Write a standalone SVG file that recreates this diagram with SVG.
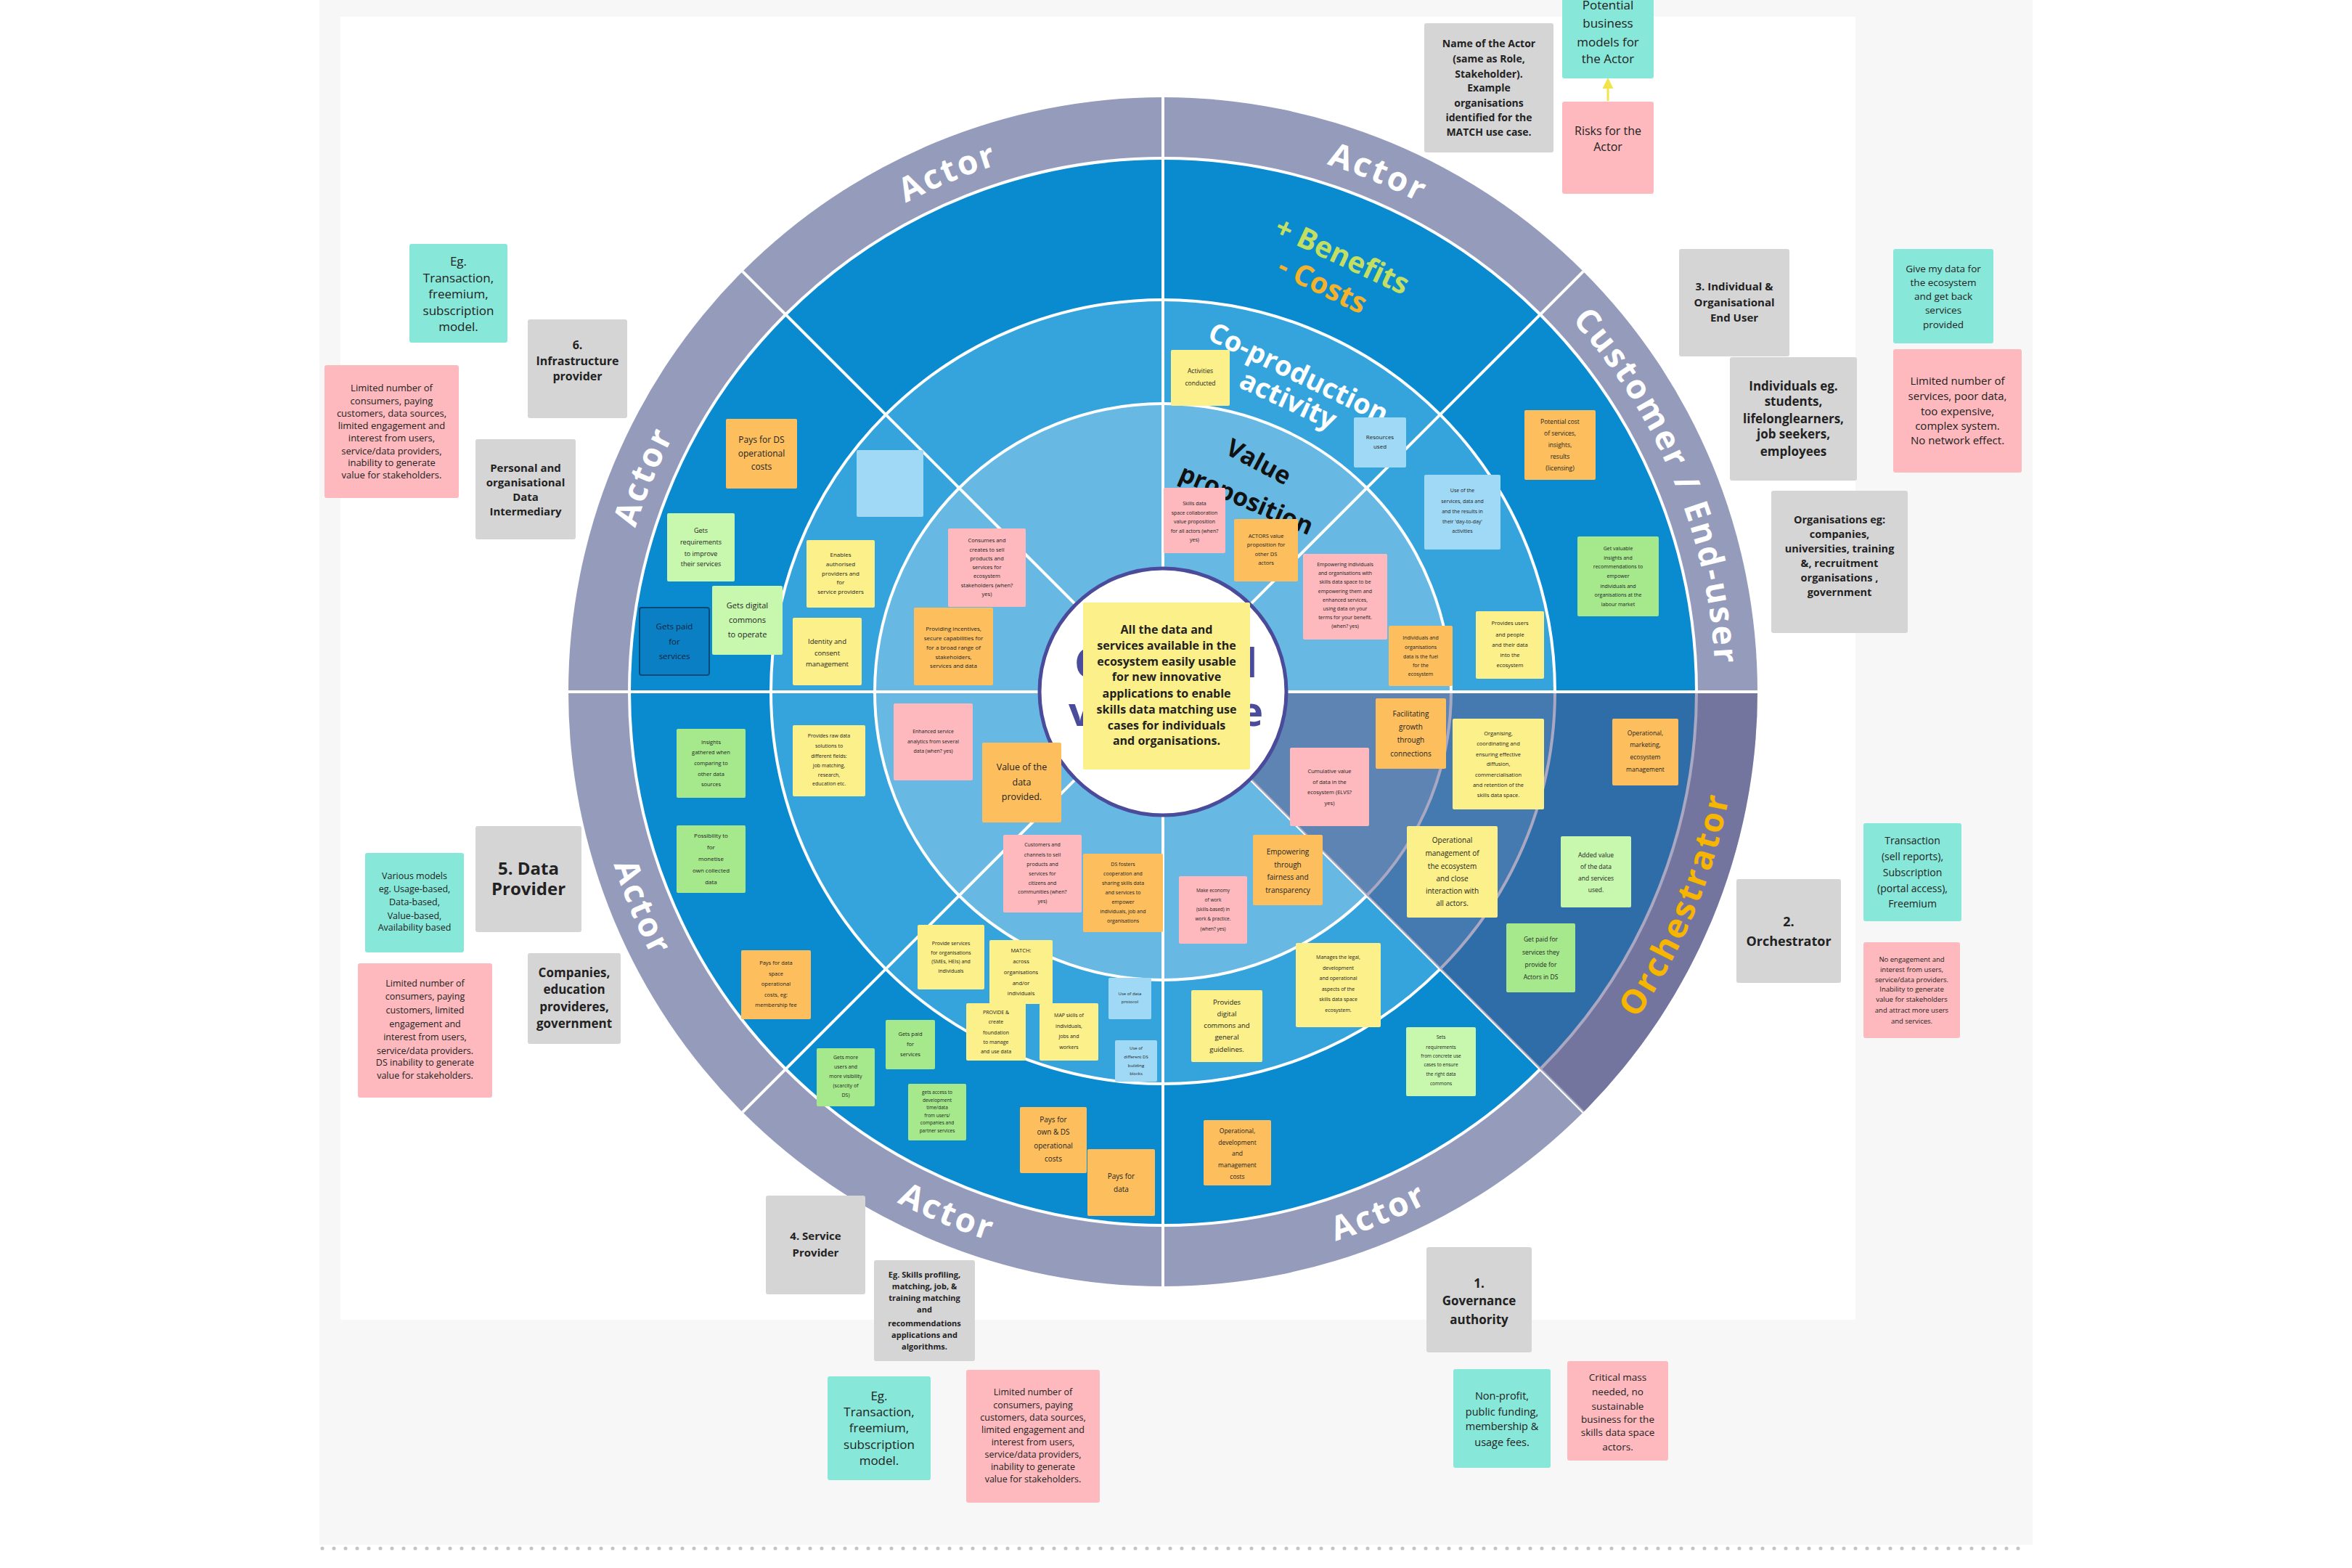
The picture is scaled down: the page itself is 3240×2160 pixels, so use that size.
<svg xmlns="http://www.w3.org/2000/svg" width="3240" height="2160" viewBox="0 0 3240 2160">
<defs>
<style>
.t{font-family:"Open Sans","Liberation Sans",sans-serif;fill:#222;text-anchor:middle}
.b{font-weight:700}
.band{font-family:"Open Sans","Liberation Sans",sans-serif;font-weight:700;font-size:46px;letter-spacing:3px;fill:#fff}
.grey{fill:#d5d5d5}.teal{fill:#87e7d8}.pink{fill:#fdb9bd}.orange{fill:#fdbf5e}.yellow{fill:#fcf08a}
.lgreen{fill:#c8f8ae}.green{fill:#a5e98c}.lblue{fill:#a0d9f6}.blue{fill:#0b7fc3;stroke:#0a4a7a;stroke-width:2}
.sep{stroke:#fff;stroke-width:4;fill:none}
</style>
<marker id="arr" viewBox="0 0 10 10" refX="8" refY="5" markerWidth="5" markerHeight="5" orient="auto"><path d="M0,0L10,5L0,10z" fill="#f2e34a"/></marker>
<path id="a-lu" d="M841,953 A761,761 0 0 1 1063.9,414.9"/>
<path id="a-tl" d="M1063.9,414.9 A761,761 0 0 1 1602,192"/>
<path id="a-tr" d="M1602,192 A761,761 0 0 1 2140.1,414.9"/>
<path id="a-ru" d="M2140.1,414.9 A761,761 0 0 1 2363,953"/>
<path id="a-ll" d="M809,953 A793,793 0 0 0 1041.3,1513.7"/>
<path id="a-bl" d="M1041.3,1513.7 A793,793 0 0 0 1602,1746"/>
<path id="a-br" d="M1602,1746 A793,793 0 0 0 2162.7,1513.7"/>
<path id="a-or" d="M2162.7,1513.7 A793,793 0 0 0 2395,953"/>
</defs>
<rect width="3240" height="2160" fill="#fff"/>
<rect x="440" y="0" width="2360" height="2128" fill="#f7f7f7"/>
<rect x="469" y="23" width="2087" height="1795" fill="#fff"/>
<line x1="444" y1="2133" x2="2796" y2="2133" stroke="#c4c4c4" stroke-width="5" stroke-dasharray="0 16" stroke-linecap="round"/>

<g id="wheel">
<circle cx="1602" cy="953" r="819" fill="#959bbb"/>
<circle cx="1602" cy="953" r="735" fill="#0a8bcf"/>
<circle cx="1602" cy="953" r="540" fill="#35a4dc"/>
<circle cx="1602" cy="953" r="397" fill="#67b9e3"/>
<circle class="sep" cx="1602" cy="953" r="735"/>
<circle class="sep" cx="1602" cy="953" r="540"/>
<circle class="sep" cx="1602" cy="953" r="397"/>
<line class="sep" x1="783" y1="953" x2="2421" y2="953"/>
<line class="sep" x1="1602" y1="134" x2="1602" y2="1772"/>
<line class="sep" x1="1022.9" y1="373.9" x2="2181.1" y2="1532.1"/>
<line class="sep" x1="1022.9" y1="1532.1" x2="2181.1" y2="373.9"/>
<path d="M1602,953 L2421,953 A819,819 0 0 1 2181.1,1532.1 Z" fill="#544f83" opacity="0.5"/>
<line class="sep" x1="1772" y1="953" x2="2421" y2="953"/>
<circle cx="1602" cy="953" r="170" fill="#fff" stroke="#4b4b9b" stroke-width="5"/>
</g>

<g id="band-labels">
<text class="band"><textPath href="#a-lu" startOffset="50%" text-anchor="middle">Actor</textPath></text>
<text class="band"><textPath href="#a-tl" startOffset="50%" text-anchor="middle">Actor</textPath></text>
<text class="band"><textPath href="#a-tr" startOffset="50%" text-anchor="middle">Actor</textPath></text>
<text class="band"><textPath href="#a-ru" startOffset="50%" text-anchor="middle">Customer / End-user</textPath></text>
<text class="band"><textPath href="#a-ll" startOffset="50%" text-anchor="middle">Actor</textPath></text>
<text class="band"><textPath href="#a-bl" startOffset="50%" text-anchor="middle">Actor</textPath></text>
<text class="band"><textPath href="#a-br" startOffset="50%" text-anchor="middle">Actor</textPath></text>
<text class="band" style="fill:#f7b500"><textPath href="#a-or" startOffset="50%" text-anchor="middle">Orchestrator</textPath></text>
</g>

<g id="ring-labels" font-family="Open Sans, Liberation Sans, sans-serif" font-weight="700" text-anchor="middle">
<text transform="translate(1849,352) rotate(25)" y="14" font-size="40" fill="#c2df63">+ Benefits</text>
<text transform="translate(1822,392) rotate(26)" y="14" font-size="40" fill="#f4b12c">- Costs</text>
<text transform="translate(1789,513) rotate(25.8)" y="14" font-size="38" fill="#fff">Co-production</text>
<text transform="translate(1775,550) rotate(25)" y="14" font-size="38" fill="#fff">activity</text>
<text transform="translate(1734,636) rotate(28)" y="12" font-size="34" fill="#111">Value</text>
<text transform="translate(1717,688) rotate(23)" y="12" font-size="34" fill="#111">proposition</text>
<text x="1480" y="933" font-size="56" fill="#4b4b9b" text-anchor="start" textLength="252" lengthAdjust="spacing">Central</text>
<text x="1472" y="1000" font-size="56" fill="#4b4b9b" text-anchor="start" textLength="268" lengthAdjust="spacing">value</text>
</g>

<g id="connectors">
<line x1="2215" y1="139" x2="2215" y2="110" stroke="#f2e34a" stroke-width="3" marker-end="url(#arr)"/>
</g>

<g id="center-note"><rect class="yellow" x="1492" y="830" width="230" height="230" rx="2"/>
<text class="t b" font-size="16"><tspan x="1607" y="873">All the data and</tspan><tspan x="1607" y="895">services available in the</tspan><tspan x="1607" y="917">ecosystem easily usable</tspan><tspan x="1607" y="938">for new innovative</tspan><tspan x="1607" y="961">applications to enable</tspan><tspan x="1607" y="983">skills data matching use</tspan><tspan x="1607" y="1005">cases for individuals</tspan><tspan x="1607" y="1026">and organisations.</tspan></text></g>

<!-- outer notes -->
<g id="n-name-actor"><rect class="grey" x="1962" y="32" width="178" height="178" rx="3"/>
<text class="t b" font-size="14"><tspan x="2051" y="65">Name of the Actor</tspan><tspan x="2051" y="86">(same as Role,</tspan><tspan x="2051" y="107">Stakeholder).</tspan><tspan x="2051" y="126">Example</tspan><tspan x="2051" y="147">organisations</tspan><tspan x="2051" y="167">identified for the</tspan><tspan x="2051" y="187">MATCH use case.</tspan></text></g>
<g id="n-potential-bm"><rect class="teal" x="2152" y="-15" width="126" height="123" rx="3"/>
<text class="t" font-size="17"><tspan x="2215" y="13">Potential</tspan><tspan x="2215" y="38">business</tspan><tspan x="2215" y="64">models for</tspan><tspan x="2215" y="87">the Actor</tspan></text></g>
<g id="n-risks"><rect class="pink" x="2152" y="140" width="126" height="127" rx="3"/>
<text class="t" font-size="16"><tspan x="2215" y="186">Risks for the</tspan><tspan x="2215" y="208">Actor</tspan></text></g>

<g id="n-eg-transaction-1"><rect class="teal" x="564" y="336" width="135" height="136" rx="3"/>
<text class="t" font-size="17"><tspan x="631.5" y="366">Eg.</tspan><tspan x="631.5" y="389">Transaction,</tspan><tspan x="631.5" y="411">freemium,</tspan><tspan x="631.5" y="434">subscription</tspan><tspan x="631.5" y="456">model.</tspan></text></g>
<g id="n-infrastructure"><rect class="grey" x="727" y="440" width="137" height="136" rx="3"/>
<text class="t b" font-size="16"><tspan x="795.5" y="481">6.</tspan><tspan x="795.5" y="503">Infrastructure</tspan><tspan x="795.5" y="524">provider</tspan></text></g>
<g id="n-risk-infra"><rect class="pink" x="447" y="503" width="185" height="183" rx="3"/>
<text class="t" font-size="13"><tspan x="539.5" y="539">Limited number of</tspan><tspan x="539.5" y="557">consumers, paying</tspan><tspan x="539.5" y="574">customers, data sources,</tspan><tspan x="539.5" y="591">limited engagement and</tspan><tspan x="539.5" y="608">interest from users,</tspan><tspan x="539.5" y="626">service/data providers,</tspan><tspan x="539.5" y="642">inability to generate</tspan><tspan x="539.5" y="659">value for stakeholders.</tspan></text></g>
<g id="n-data-intermediary"><rect class="grey" x="655" y="605" width="138" height="138" rx="3"/>
<text class="t b" font-size="15"><tspan x="724" y="650">Personal and</tspan><tspan x="724" y="670">organisational</tspan><tspan x="724" y="690">Data</tspan><tspan x="724" y="710">Intermediary</tspan></text></g>

<g id="n-end-user"><rect class="grey" x="2313" y="343" width="152" height="148" rx="3"/>
<text class="t b" font-size="15"><tspan x="2389" y="400">3. Individual  &amp;</tspan><tspan x="2389" y="422">Organisational</tspan><tspan x="2389" y="443">End User</tspan></text></g>
<g id="n-individuals"><rect class="grey" x="2383" y="492" width="175" height="170" rx="3"/>
<text class="t b" font-size="17"><tspan x="2470.5" y="538">Individuals eg.</tspan><tspan x="2470.5" y="559">students,</tspan><tspan x="2470.5" y="583">lifelonglearners,</tspan><tspan x="2470.5" y="604">job seekers,</tspan><tspan x="2470.5" y="628">employees</tspan></text></g>
<g id="n-give-data"><rect class="teal" x="2608" y="343" width="138" height="130" rx="3"/>
<text class="t" font-size="13.5"><tspan x="2677" y="375">Give my data for</tspan><tspan x="2677" y="394">the ecosystem</tspan><tspan x="2677" y="413">and get back</tspan><tspan x="2677" y="432">services</tspan><tspan x="2677" y="452">provided</tspan></text></g>
<g id="n-risk-enduser"><rect class="pink" x="2608" y="481" width="177" height="170" rx="3"/>
<text class="t" font-size="15"><tspan x="2696.5" y="530">Limited number of</tspan><tspan x="2696.5" y="551">services, poor data,</tspan><tspan x="2696.5" y="572">too expensive,</tspan><tspan x="2696.5" y="592">complex system.</tspan><tspan x="2696.5" y="612">No network effect.</tspan></text></g>
<g id="n-organisations"><rect class="grey" x="2440" y="676" width="188" height="196" rx="3"/>
<text class="t b" font-size="14.5"><tspan x="2534" y="721">Organisations eg:</tspan><tspan x="2534" y="741">companies,</tspan><tspan x="2534" y="761">universities, training</tspan><tspan x="2534" y="781">&amp;, recruitment</tspan><tspan x="2534" y="801">organisations ,</tspan><tspan x="2534" y="821">government</tspan></text></g>

<g id="n-various-models"><rect class="teal" x="503" y="1175" width="136" height="137" rx="3"/>
<text class="t" font-size="12.5"><tspan x="571" y="1211">Various models</tspan><tspan x="571" y="1229">eg. Usage-based,</tspan><tspan x="571" y="1247">Data-based,</tspan><tspan x="571" y="1266">Value-based,</tspan><tspan x="571" y="1282">Availability based</tspan></text></g>
<g id="n-data-provider"><rect class="grey" x="655" y="1138" width="146" height="146" rx="3"/>
<text class="t b" font-size="24"><tspan x="728" y="1205">5. Data</tspan><tspan x="728" y="1233">Provider</tspan></text></g>
<g id="n-risk-data"><rect class="pink" x="493" y="1327" width="185" height="185" rx="3"/>
<text class="t" font-size="12.5"><tspan x="585.5" y="1359">Limited number of</tspan><tspan x="585.5" y="1377">consumers, paying</tspan><tspan x="585.5" y="1396">customers, limited</tspan><tspan x="585.5" y="1415">engagement and</tspan><tspan x="585.5" y="1433">interest from users,</tspan><tspan x="585.5" y="1452">service/data providers.</tspan><tspan x="585.5" y="1468">DS inability to generate</tspan><tspan x="585.5" y="1486">value for stakeholders.</tspan></text></g>
<g id="n-companies"><rect class="grey" x="727" y="1313" width="128" height="125" rx="3"/>
<text class="t b" font-size="17"><tspan x="791" y="1346">Companies,</tspan><tspan x="791" y="1369">education</tspan><tspan x="791" y="1393">provideres,</tspan><tspan x="791" y="1416">government</tspan></text></g>

<g id="n-transaction-orch"><rect class="teal" x="2567" y="1134" width="135" height="135" rx="3"/>
<text class="t" font-size="14"><tspan x="2634.5" y="1163">Transaction</tspan><tspan x="2634.5" y="1185">(sell reports),</tspan><tspan x="2634.5" y="1207">Subscription</tspan><tspan x="2634.5" y="1229">(portal access),</tspan><tspan x="2634.5" y="1250">Freemium</tspan></text></g>
<g id="n-orchestrator"><rect class="grey" x="2392" y="1211" width="144" height="143" rx="3"/>
<text class="t b" font-size="18"><tspan x="2464" y="1276">2.</tspan><tspan x="2464" y="1303">Orchestrator</tspan></text></g>
<g id="n-risk-orch"><rect class="pink" x="2567" y="1298" width="133" height="132" rx="3"/>
<text class="t" font-size="9.5"><tspan x="2633.5" y="1325">No engagement and</tspan><tspan x="2633.5" y="1339">interest from users,</tspan><tspan x="2633.5" y="1353">service/data providers.</tspan><tspan x="2633.5" y="1366">Inability to generate</tspan><tspan x="2633.5" y="1380">value for stakeholders</tspan><tspan x="2633.5" y="1395">and attract more users</tspan><tspan x="2633.5" y="1410">and services.</tspan></text></g>

<g id="n-service-provider"><rect class="grey" x="1055" y="1647" width="137" height="136" rx="3"/>
<text class="t b" font-size="15"><tspan x="1123.5" y="1708">4. Service</tspan><tspan x="1123.5" y="1731">Provider</tspan></text></g>
<g id="n-eg-skills"><rect class="grey" x="1204" y="1736" width="139" height="139" rx="3"/>
<text class="t b" font-size="11"><tspan x="1273.5" y="1760">Eg. Skills profiling,</tspan><tspan x="1273.5" y="1776">matching, job, &amp;</tspan><tspan x="1273.5" y="1792">training matching</tspan><tspan x="1273.5" y="1808">and</tspan><tspan x="1273.5" y="1827">recommendations</tspan><tspan x="1273.5" y="1843">applications and</tspan><tspan x="1273.5" y="1859">algorithms.</tspan></text></g>
<g id="n-eg-transaction-2"><rect class="teal" x="1140" y="1896" width="142" height="143" rx="3"/>
<text class="t" font-size="17"><tspan x="1211" y="1929">Eg.</tspan><tspan x="1211" y="1951">Transaction,</tspan><tspan x="1211" y="1973">freemium,</tspan><tspan x="1211" y="1996">subscription</tspan><tspan x="1211" y="2018">model.</tspan></text></g>
<g id="n-risk-service"><rect class="pink" x="1331" y="1887" width="184" height="183" rx="3"/>
<text class="t" font-size="12.5"><tspan x="1423" y="1922">Limited number of</tspan><tspan x="1423" y="1940">consumers, paying</tspan><tspan x="1423" y="1957">customers, data sources,</tspan><tspan x="1423" y="1974">limited engagement and</tspan><tspan x="1423" y="1991">interest from users,</tspan><tspan x="1423" y="2008">service/data providers,</tspan><tspan x="1423" y="2025">inability to generate</tspan><tspan x="1423" y="2042">value for stakeholders.</tspan></text></g>

<g id="n-governance"><rect class="grey" x="1965" y="1718" width="145" height="145" rx="3"/>
<text class="t b" font-size="17"><tspan x="2037.5" y="1774">1.</tspan><tspan x="2037.5" y="1798">Governance</tspan><tspan x="2037.5" y="1824">authority</tspan></text></g>
<g id="n-non-profit"><rect class="teal" x="2002" y="1886" width="134" height="136" rx="3"/>
<text class="t" font-size="14.5"><tspan x="2069" y="1928">Non-profit,</tspan><tspan x="2069" y="1950">public funding,</tspan><tspan x="2069" y="1970">membership &amp;</tspan><tspan x="2069" y="1992">usage fees.</tspan></text></g>
<g id="n-critical-mass"><rect class="pink" x="2159" y="1875" width="139" height="137" rx="3"/>
<text class="t" font-size="13.5"><tspan x="2228.5" y="1902">Critical mass</tspan><tspan x="2228.5" y="1922">needed, no</tspan><tspan x="2228.5" y="1942">sustainable</tspan><tspan x="2228.5" y="1960">business for the</tspan><tspan x="2228.5" y="1978">skills data space</tspan><tspan x="2228.5" y="1998">actors.</tspan></text></g>

<!-- inner notes -->
<g id="i1"><rect class="orange" x="1000" y="577" width="98" height="96" rx="2"/><text class="t" font-size="12"><tspan x="1049" y="610">Pays for DS</tspan><tspan x="1049" y="629">operational</tspan><tspan x="1049" y="647">costs</tspan></text></g>
<g id="i2"><rect class="lblue" x="1180" y="620" width="92" height="92" rx="2"/></g>
<g id="i3"><rect class="lgreen" x="919" y="707" width="93" height="94" rx="2"/><text class="t" font-size="9"><tspan x="965.5" y="734">Gets</tspan><tspan x="965.5" y="750">requirements</tspan><tspan x="965.5" y="766">to improve</tspan><tspan x="965.5" y="780">their services</tspan></text></g>
<g id="i4"><rect class="lgreen" x="981" y="807" width="97" height="95" rx="2"/><text class="t" font-size="11"><tspan x="1029.5" y="838">Gets digital</tspan><tspan x="1029.5" y="858">commons</tspan><tspan x="1029.5" y="878">to operate</tspan></text></g>
<g id="i5"><rect class="blue" x="881" y="837" width="96" height="93" rx="3"/><text class="t" font-size="11.5" style="fill:#0b2540"><tspan x="929" y="867">Gets paid</tspan><tspan x="929" y="888">for</tspan><tspan x="929" y="908">services</tspan></text></g>
<g id="i6"><rect class="yellow" x="1111" y="744" width="94" height="93" rx="2"/><text class="t" font-size="8"><tspan x="1158" y="767">Enables</tspan><tspan x="1158" y="780">authorised</tspan><tspan x="1158" y="793">providers and</tspan><tspan x="1158" y="805">for</tspan><tspan x="1158" y="818">service providers</tspan></text></g>
<g id="i7"><rect class="yellow" x="1092" y="851" width="95" height="93" rx="2"/><text class="t" font-size="9.5"><tspan x="1139.5" y="887">Identity and</tspan><tspan x="1139.5" y="903">consent</tspan><tspan x="1139.5" y="918">management</tspan></text></g>
<g id="i8"><rect class="pink" x="1306" y="728" width="107" height="108" rx="2"/><text class="t" font-size="7.5"><tspan x="1359.5" y="747">Consumes and</tspan><tspan x="1359.5" y="760">creates to sell</tspan><tspan x="1359.5" y="772">products and</tspan><tspan x="1359.5" y="784">services for</tspan><tspan x="1359.5" y="796">ecosystem</tspan><tspan x="1359.5" y="809">stakeholders (when?</tspan><tspan x="1359.5" y="821">yes)</tspan></text></g>
<g id="i9"><rect class="orange" x="1259" y="837" width="109" height="107" rx="2"/><text class="t" font-size="8"><tspan x="1313.5" y="869">Providing incentives,</tspan><tspan x="1313.5" y="882">secure capabilities for</tspan><tspan x="1313.5" y="895">for a broad range of</tspan><tspan x="1313.5" y="908">stakeholders,</tspan><tspan x="1313.5" y="920">services and data</tspan></text></g>
<g id="i10"><rect class="yellow" x="1613" y="482" width="81" height="77" rx="2"/><text class="t" font-size="8.5"><tspan x="1653.5" y="514">Activities</tspan><tspan x="1653.5" y="531">conducted</tspan></text></g>
<g id="i11"><rect class="lblue" x="1865" y="575" width="72" height="69" rx="2"/><text class="t" font-size="8"><tspan x="1901" y="605">Resources</tspan><tspan x="1901" y="618">used</tspan></text></g>
<g id="i12"><rect class="pink" x="1603" y="672" width="85" height="90" rx="2"/><text class="t" font-size="7"><tspan x="1645.5" y="696">Skills data</tspan><tspan x="1645.5" y="709">space collaboration</tspan><tspan x="1645.5" y="721">value proposition</tspan><tspan x="1645.5" y="734">for all actors (when?</tspan><tspan x="1645.5" y="746">yes)</tspan></text></g>
<g id="i13"><rect class="orange" x="1700" y="715" width="88" height="86" rx="2"/><text class="t" font-size="7.5"><tspan x="1744" y="741">ACTORS value</tspan><tspan x="1744" y="753">proposition for</tspan><tspan x="1744" y="766">other DS</tspan><tspan x="1744" y="778">actors</tspan></text></g>
<g id="i14"><rect class="pink" x="1795" y="763" width="116" height="118" rx="2"/><text class="t" font-size="7"><tspan x="1853" y="780">Empowering individuals</tspan><tspan x="1853" y="792">and organisations with</tspan><tspan x="1853" y="804">skills data space to be</tspan><tspan x="1853" y="817">empowering them and</tspan><tspan x="1853" y="829">enhanced services,</tspan><tspan x="1853" y="841">using data on your</tspan><tspan x="1853" y="853">terms for your benefit.</tspan><tspan x="1853" y="865">(when? yes)</tspan></text></g>
<g id="i15"><rect class="orange" x="1913" y="862" width="88" height="83" rx="2"/><text class="t" font-size="7"><tspan x="1957" y="881">Individuals and</tspan><tspan x="1957" y="894">organisations</tspan><tspan x="1957" y="907">data is the fuel</tspan><tspan x="1957" y="919">for the</tspan><tspan x="1957" y="931">ecosystem</tspan></text></g>
<g id="i16"><rect class="lblue" x="1962" y="654" width="105" height="103" rx="2"/><text class="t" font-size="7"><tspan x="2014.5" y="678">Use of the</tspan><tspan x="2014.5" y="693">services, data and</tspan><tspan x="2014.5" y="707">and the results in</tspan><tspan x="2014.5" y="721">their 'day-to-day'</tspan><tspan x="2014.5" y="734">activities</tspan></text></g>
<g id="i17"><rect class="orange" x="2100" y="565" width="98" height="96" rx="2"/><text class="t" font-size="8.5"><tspan x="2149" y="584">Potential cost</tspan><tspan x="2149" y="600">of services,</tspan><tspan x="2149" y="616">insights,</tspan><tspan x="2149" y="632">results</tspan><tspan x="2149" y="648">(licensing)</tspan></text></g>
<g id="i18"><rect class="green" x="2173" y="739" width="112" height="110" rx="2"/><text class="t" font-size="7"><tspan x="2229" y="758">Get valuable</tspan><tspan x="2229" y="771">insights and</tspan><tspan x="2229" y="783">recommendations to</tspan><tspan x="2229" y="796">empower</tspan><tspan x="2229" y="810">individuals and</tspan><tspan x="2229" y="822">organisations at the</tspan><tspan x="2229" y="835">labour market</tspan></text></g>
<g id="i19"><rect class="yellow" x="2033" y="842" width="94" height="93" rx="2"/><text class="t" font-size="7.5"><tspan x="2080" y="861">Provides users</tspan><tspan x="2080" y="877">and people</tspan><tspan x="2080" y="891">and their data</tspan><tspan x="2080" y="905">into the</tspan><tspan x="2080" y="919">ecosystem</tspan></text></g>
<g id="i20"><rect class="green" x="932" y="1004" width="95" height="95" rx="2"/><text class="t" font-size="7.5"><tspan x="979.5" y="1025">Insights</tspan><tspan x="979.5" y="1039">gathered when</tspan><tspan x="979.5" y="1054">comparing to</tspan><tspan x="979.5" y="1069">other data</tspan><tspan x="979.5" y="1083">sources</tspan></text></g>
<g id="i21"><rect class="green" x="932" y="1137" width="95" height="93" rx="2"/><text class="t" font-size="8"><tspan x="979.5" y="1154">Possibility to</tspan><tspan x="979.5" y="1170">for</tspan><tspan x="979.5" y="1186">monetise</tspan><tspan x="979.5" y="1202">own collected</tspan><tspan x="979.5" y="1218">data</tspan></text></g>
<g id="i22"><rect class="yellow" x="1092" y="999" width="100" height="98" rx="2"/><text class="t" font-size="7"><tspan x="1142" y="1016">Provides raw data</tspan><tspan x="1142" y="1030">solutions to</tspan><tspan x="1142" y="1044">different fields:</tspan><tspan x="1142" y="1057">job matching,</tspan><tspan x="1142" y="1070">research,</tspan><tspan x="1142" y="1082">education etc.</tspan></text></g>
<g id="i23"><rect class="pink" x="1231" y="969" width="109" height="106" rx="2"/><text class="t" font-size="7"><tspan x="1285.5" y="1010">Enhanced service</tspan><tspan x="1285.5" y="1024">analytics from several</tspan><tspan x="1285.5" y="1037">data (when? yes)</tspan></text></g>
<g id="i24"><rect class="orange" x="1353" y="1023" width="109" height="110" rx="2"/><text class="t" font-size="12.5"><tspan x="1407.5" y="1061">Value of the</tspan><tspan x="1407.5" y="1082">data</tspan><tspan x="1407.5" y="1102">provided.</tspan></text></g>
<g id="i25"><rect class="pink" x="1382" y="1150" width="108" height="107" rx="2"/><text class="t" font-size="7"><tspan x="1436" y="1166">Customers and</tspan><tspan x="1436" y="1180">channels to sell</tspan><tspan x="1436" y="1193">products and</tspan><tspan x="1436" y="1206">services for</tspan><tspan x="1436" y="1219">citizens and</tspan><tspan x="1436" y="1231">communities (when?</tspan><tspan x="1436" y="1244">yes)</tspan></text></g>
<g id="i26"><rect class="orange" x="1492" y="1176" width="110" height="108" rx="2"/><text class="t" font-size="7"><tspan x="1547" y="1193">DS fosters</tspan><tspan x="1547" y="1206">cooperation and</tspan><tspan x="1547" y="1219">sharing skills data</tspan><tspan x="1547" y="1232">and services to</tspan><tspan x="1547" y="1245">empower</tspan><tspan x="1547" y="1258">individuals, job and</tspan><tspan x="1547" y="1271">organisations</tspan></text></g>
<g id="i27"><rect class="yellow" x="1264" y="1274" width="92" height="89" rx="2"/><text class="t" font-size="7"><tspan x="1310" y="1302">Provide services</tspan><tspan x="1310" y="1315">for organisations</tspan><tspan x="1310" y="1327">(SMEs, HEIs) and</tspan><tspan x="1310" y="1340">individuals</tspan></text></g>
<g id="i28"><rect class="yellow" x="1363" y="1295" width="87" height="88" rx="2"/><text class="t" font-size="7.5"><tspan x="1406.5" y="1312">MATCH:</tspan><tspan x="1406.5" y="1327">across</tspan><tspan x="1406.5" y="1342">organisations</tspan><tspan x="1406.5" y="1357">and/or</tspan><tspan x="1406.5" y="1371">individuals</tspan></text></g>
<g id="i29"><rect class="yellow" x="1331" y="1382" width="82" height="79" rx="2"/><text class="t" font-size="7"><tspan x="1372" y="1397">PROVIDE &amp;</tspan><tspan x="1372" y="1410">create</tspan><tspan x="1372" y="1425">foundation</tspan><tspan x="1372" y="1438">to manage</tspan><tspan x="1372" y="1451">and use data</tspan></text></g>
<g id="i30"><rect class="yellow" x="1432" y="1382" width="81" height="79" rx="2"/><text class="t" font-size="7"><tspan x="1472.5" y="1401">MAP skills of</tspan><tspan x="1472.5" y="1416">individuals,</tspan><tspan x="1472.5" y="1430">jobs and</tspan><tspan x="1472.5" y="1445">workers</tspan></text></g>
<g id="i31"><rect class="lblue" x="1527" y="1347" width="59" height="57" rx="2"/><text class="t" font-size="6"><tspan x="1556.5" y="1371">Use of data</tspan><tspan x="1556.5" y="1382">protocol</tspan></text></g>
<g id="i32"><rect class="lblue" x="1536" y="1433" width="58" height="57" rx="2"/><text class="t" font-size="6"><tspan x="1565" y="1446">Use of</tspan><tspan x="1565" y="1458">different DS</tspan><tspan x="1565" y="1470">building</tspan><tspan x="1565" y="1481">blocks</tspan></text></g>
<g id="i33"><rect class="orange" x="1021" y="1309" width="96" height="95" rx="2"/><text class="t" font-size="7.5"><tspan x="1069" y="1329">Pays for data</tspan><tspan x="1069" y="1344">space</tspan><tspan x="1069" y="1358">operational</tspan><tspan x="1069" y="1373">costs, eg:</tspan><tspan x="1069" y="1387">membership fee</tspan></text></g>
<g id="i34"><rect class="green" x="1220" y="1405" width="68" height="68" rx="2"/><text class="t" font-size="7.5"><tspan x="1254" y="1427">Gets paid</tspan><tspan x="1254" y="1441">for</tspan><tspan x="1254" y="1455">services</tspan></text></g>
<g id="i35"><rect class="green" x="1125" y="1444" width="80" height="80" rx="2"/><text class="t" font-size="7"><tspan x="1165" y="1459">Gets more</tspan><tspan x="1165" y="1472">users and</tspan><tspan x="1165" y="1485">more visibility</tspan><tspan x="1165" y="1498">(scarcity of</tspan><tspan x="1165" y="1511">DS)</tspan></text></g>
<g id="i36"><rect class="green" x="1251" y="1493" width="80" height="78" rx="2"/><text class="t" font-size="6.5"><tspan x="1291" y="1507">gets access to</tspan><tspan x="1291" y="1518">development</tspan><tspan x="1291" y="1528">time/data</tspan><tspan x="1291" y="1539">from users/</tspan><tspan x="1291" y="1549">companies and</tspan><tspan x="1291" y="1560">partner services</tspan></text></g>
<g id="i37"><rect class="orange" x="1405" y="1525" width="92" height="91" rx="2"/><text class="t" font-size="10"><tspan x="1451" y="1546">Pays for</tspan><tspan x="1451" y="1563">own &amp; DS</tspan><tspan x="1451" y="1582">operational</tspan><tspan x="1451" y="1600">costs</tspan></text></g>
<g id="i38"><rect class="orange" x="1498" y="1583" width="93" height="92" rx="2"/><text class="t" font-size="10"><tspan x="1544.5" y="1624">Pays for</tspan><tspan x="1544.5" y="1642">data</tspan></text></g>
<g id="i39"><rect class="orange" x="1895" y="962" width="97" height="97" rx="2"/><text class="t" font-size="10"><tspan x="1943.5" y="987">Facilitating</tspan><tspan x="1943.5" y="1005">growth</tspan><tspan x="1943.5" y="1023">through</tspan><tspan x="1943.5" y="1042">connections</tspan></text></g>
<g id="i40"><rect class="yellow" x="2001" y="990" width="126" height="125" rx="2"/><text class="t" font-size="7.5"><tspan x="2064" y="1013">Organising,</tspan><tspan x="2064" y="1027">coordinating and</tspan><tspan x="2064" y="1042">ensuring effective</tspan><tspan x="2064" y="1055">diffusion,</tspan><tspan x="2064" y="1070">commercialisation</tspan><tspan x="2064" y="1084">and retention of the</tspan><tspan x="2064" y="1098">skills data space.</tspan></text></g>
<g id="i41"><rect class="orange" x="2221" y="990" width="91" height="92" rx="2"/><text class="t" font-size="8.5"><tspan x="2266.5" y="1013">Operational,</tspan><tspan x="2266.5" y="1029">marketing,</tspan><tspan x="2266.5" y="1046">ecosystem</tspan><tspan x="2266.5" y="1063">management</tspan></text></g>
<g id="i42"><rect class="pink" x="1777" y="1030" width="109" height="108" rx="2"/><text class="t" font-size="7.5"><tspan x="1831.5" y="1065">Cumulative value</tspan><tspan x="1831.5" y="1080">of data in the</tspan><tspan x="1831.5" y="1094">ecosystem (ELVS?</tspan><tspan x="1831.5" y="1109">yes)</tspan></text></g>
<g id="i43"><rect class="yellow" x="1938" y="1138" width="125" height="126" rx="2"/><text class="t" font-size="10"><tspan x="2000.5" y="1161">Operational</tspan><tspan x="2000.5" y="1179">management of</tspan><tspan x="2000.5" y="1197">the ecosystem</tspan><tspan x="2000.5" y="1214">and close</tspan><tspan x="2000.5" y="1231">interaction with</tspan><tspan x="2000.5" y="1248">all actors.</tspan></text></g>
<g id="i44"><rect class="lgreen" x="2150" y="1152" width="97" height="98" rx="2"/><text class="t" font-size="8.5"><tspan x="2198.5" y="1181">Added value</tspan><tspan x="2198.5" y="1197">of the data</tspan><tspan x="2198.5" y="1213">and services</tspan><tspan x="2198.5" y="1229">used.</tspan></text></g>
<g id="i45"><rect class="green" x="2075" y="1272" width="95" height="95" rx="2"/><text class="t" font-size="8.5"><tspan x="2122.5" y="1297">Get paid for</tspan><tspan x="2122.5" y="1315">services they</tspan><tspan x="2122.5" y="1332">provide for</tspan><tspan x="2122.5" y="1349">Actors in DS</tspan></text></g>
<g id="i46"><rect class="orange" x="1726" y="1150" width="96" height="97" rx="2"/><text class="t" font-size="10"><tspan x="1774" y="1177">Empowering</tspan><tspan x="1774" y="1195">through</tspan><tspan x="1774" y="1212">fairness and</tspan><tspan x="1774" y="1230">transparency</tspan></text></g>
<g id="i47"><rect class="pink" x="1624" y="1207" width="94" height="93" rx="2"/><text class="t" font-size="6.5"><tspan x="1671" y="1229">Make economy</tspan><tspan x="1671" y="1242">of work</tspan><tspan x="1671" y="1255">(skills-based) in</tspan><tspan x="1671" y="1268">work &amp; practice.</tspan><tspan x="1671" y="1282">(when? yes)</tspan></text></g>
<g id="i48"><rect class="yellow" x="1785" y="1299" width="117" height="116" rx="2"/><text class="t" font-size="7"><tspan x="1843.5" y="1321">Manages the legal,</tspan><tspan x="1843.5" y="1336">development</tspan><tspan x="1843.5" y="1350">and operational</tspan><tspan x="1843.5" y="1365">aspects of the</tspan><tspan x="1843.5" y="1379">skills data space</tspan><tspan x="1843.5" y="1394">ecosystem.</tspan></text></g>
<g id="i49"><rect class="yellow" x="1641" y="1364" width="98" height="99" rx="2"/><text class="t" font-size="9.5"><tspan x="1690" y="1384">Provides</tspan><tspan x="1690" y="1400">digital</tspan><tspan x="1690" y="1416">commons and</tspan><tspan x="1690" y="1432">general</tspan><tspan x="1690" y="1449">guidelines.</tspan></text></g>
<g id="i50"><rect class="lgreen" x="1937" y="1415" width="96" height="95" rx="2"/><text class="t" font-size="6.5"><tspan x="1985" y="1431">Sets</tspan><tspan x="1985" y="1445">requirements</tspan><tspan x="1985" y="1457">from concrete use</tspan><tspan x="1985" y="1469">cases to ensure</tspan><tspan x="1985" y="1482">the right data</tspan><tspan x="1985" y="1495">commons</tspan></text></g>
<g id="i51"><rect class="orange" x="1658" y="1543" width="93" height="90" rx="2"/><text class="t" font-size="8.5"><tspan x="1704.5" y="1561">Operational,</tspan><tspan x="1704.5" y="1577">development</tspan><tspan x="1704.5" y="1592">and</tspan><tspan x="1704.5" y="1608">management</tspan><tspan x="1704.5" y="1624">costs</tspan></text></g>
</svg>
